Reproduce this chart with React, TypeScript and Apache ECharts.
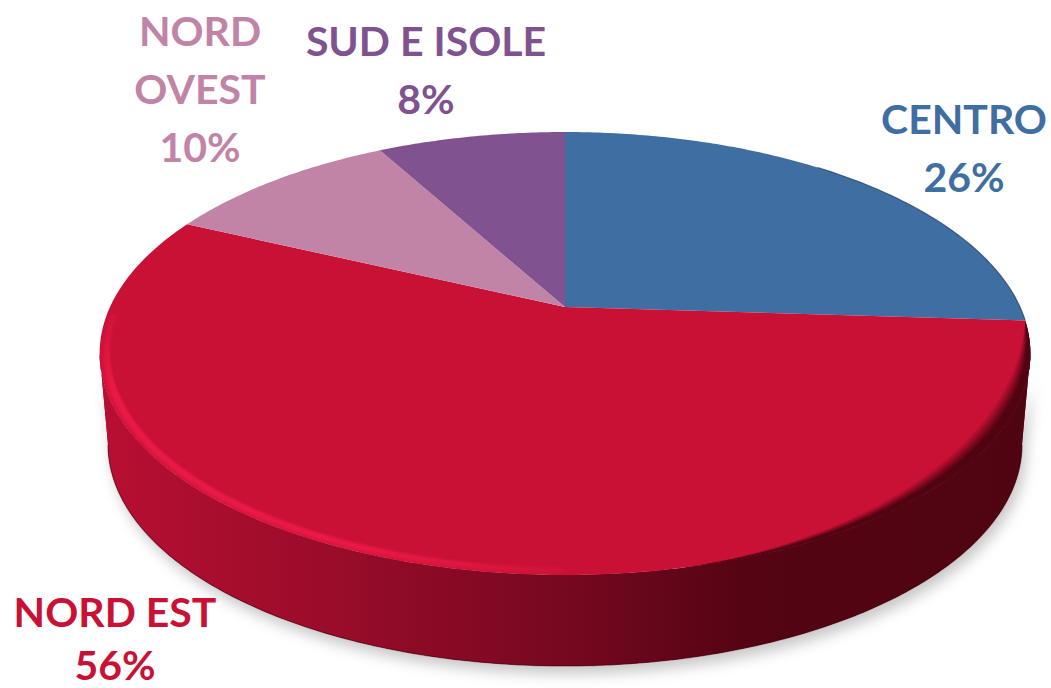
import React, { useEffect, useRef } from "react";
import * as echarts from "echarts";

const regionNames = ["CENTRO", "NORD EST", "NORD OVEST", "SUD E ISOLE"];
const regionShares = [26, 56, 10, 8];
const regionColors = ["#3F6EA3", "#C91135", "#C184A6", "#80528F"];
const labelLines = [["CENTRO"], ["NORD EST"], ["NORD", "OVEST"], ["SUD E ISOLE"]];
const labelCenters = [[964, 118], [115, 611], [200, 30], [426, 40]];
const labelSteps = [58, 53, 58, 58];

// perspective disc geometry
const APEX_X = 565;
const APEX_Y = 307;
const RX = 455;
const RY = 211.7;
const K = 0.21;
const WALL_DROP = 91;
const WALL_SHRINK = 0.982;
const EXTREME = Math.acos(-K); // angle where the disc is widest
const FONT = "Lato, Carlito, 'Open Sans', sans-serif";
const DEG = Math.PI / 180;

const project = (theta: number, s = 1): [number, number] => {
  const u = s * Math.sin(theta);
  const v = s * Math.cos(theta);
  const w = 1 + K * v;
  return [APEX_X + (RX * u) / w, APEX_Y - (RY * v) / w];
};

const arc = (a: number, b: number, s = 1): [number, number][] => {
  const n = Math.max(8, Math.ceil(Math.abs(b - a) * 90));
  const pts: [number, number][] = [];
  for (let i = 0; i <= n; i++) pts.push(project(a + ((b - a) * i) / n, s));
  return pts;
};

const hGrad = (stops: [number, string][]) =>
  new echarts.graphic.LinearGradient(
    99, 0, 1030, 0,
    stops.map(([offset, color]) => ({ offset, color })),
    true
  );

const sliceAngles = (index: number) => {
  const total = regionShares.reduce((a, b) => a + b, 0);
  const before = regionShares.slice(0, index).reduce((a, b) => a + b, 0);
  return [
    (before / total) * Math.PI * 2,
    ((before + regionShares[index]) / total) * Math.PI * 2,
  ];
};

const wallElements = () => {
  const top = arc(EXTREME, Math.PI * 2 - EXTREME);
  const bottom = arc(Math.PI * 2 - EXTREME, EXTREME).map(([x, y]) => [
    APEX_X + (x - APEX_X) * WALL_SHRINK,
    y + WALL_DROP,
  ]);
  const fill = hGrad([
    [0, "#B80F32"],
    [0.25, "#9A0C2A"],
    [0.5, "#760820"],
    [0.7, "#540414"],
    [1, "#500412"],
  ]);
  return [
    {
      type: "polygon",
      shape: { points: [...top, ...bottom] },
      style: {
        fill: "#8a0a24",
        shadowBlur: 14,
        shadowColor: "rgba(0,0,0,0.22)",
        shadowOffsetX: 4,
        shadowOffsetY: 8,
      },
    },
    { type: "polygon", shape: { points: [...top, ...bottom] }, style: { fill } },
    {
      type: "polyline",
      shape: { points: bottom },
      style: { fill: "none", stroke: "rgba(60,0,10,0.5)", lineWidth: 1.2 },
    },
  ];
};

// dark crescent along the front-right edge of the disc
const darkCrescent = (depth: number, opacity: number) => {
  const a = 93.6 * DEG;
  const b = 168 * DEG;
  const n = 70;
  const inner: [number, number][] = [];
  for (let i = 0; i <= n; i++) {
    const t = i / n;
    const bump = Math.pow(Math.sin(Math.PI * Math.pow(t, 0.75)), 1.2);
    inner.push(project(a + (b - a) * t, 1 - depth * bump));
  }
  return {
    type: "polygon",
    shape: { points: [...arc(a, b), ...inner.reverse()] },
    style: { fill: `rgba(80,4,18,${opacity})` },
  };
};

const rimElements = () => {
  const out: any[] = [];
  const light = new echarts.graphic.LinearGradient(
    100, 320, 640, 600,
    [
      { offset: 0, color: "rgba(245,28,76,0)" },
      { offset: 0.07, color: "rgba(245,28,76,0.34)" },
      { offset: 0.55, color: "rgba(245,28,76,0.3)" },
      { offset: 0.92, color: "rgba(245,28,76,0)" },
    ],
    true
  );
  [[0.992, 6], [0.985, 8], [0.985, 5], [0.983, 3]].forEach(([s, lineWidth]) => {
    out.push({
      type: "polyline",
      shape: { points: arc(180 * DEG, 268 * DEG, s) },
      style: { fill: "none", stroke: light, lineWidth },
    });
  });
  [0.042, 0.036, 0.03, 0.024, 0.018].forEach((d, i) => {
    out.push(darkCrescent(d, [0.18, 0.25, 0.35, 0.55, 1][i]));
  });
  return out;
};

const renderSlice = (params: any, api: any) => {
  const i = params.dataIndex;
  const share = api.value(0);
  const [a, b] = sliceAngles(i);
  const color = regionColors[i];
  const children: any[] = [];
  if (i === 1) children.push(...wallElements());
  children.push({
    type: "polygon",
    shape: { points: [[APEX_X, APEX_Y], ...arc(a, b)] },
    style: { fill: color },
  });
  if (i === 1) children.push(...rimElements());
  if (i === 0) {
    children.push({
      type: "polyline",
      shape: { points: arc(a + 0.7, b) },
      style: { fill: "none", stroke: "rgba(30,60,95,0.7)", lineWidth: 1.2 },
    });
  }
  const [cx, cy] = labelCenters[i];
  [...labelLines[i], `${share}%`].forEach((text, n) => {
    children.push({
      type: "text",
      x: cx,
      y: cy + n * labelSteps[i],
      style: {
        text,
        fill: color,
        font: `bold 41px ${FONT}`,
        textAlign: "center",
        textVerticalAlign: "middle",
      },
    });
  });
  return { type: "group", children };
};

export default function App() {
  const ref = useRef<HTMLDivElement>(null);
  useEffect(() => {
    document.body.style.margin = "0";
    document.body.style.background = "#fff";
    const chart = echarts.init(ref.current!, null, { renderer: "svg" });
    chart.setOption({
      animation: false,
      backgroundColor: "#ffffff",
      series: [
        {
          type: "custom",
          coordinateSystem: "none",
          silent: true,
          clip: false,
          renderItem: renderSlice,
          data: regionShares.map((value, i) => ({ name: regionNames[i], value: [value] })),
        },
      ],
    });
    return () => chart.dispose();
  }, []);
  return <div ref={ref} style={{ width: 1051, height: 688 }} />;
}
